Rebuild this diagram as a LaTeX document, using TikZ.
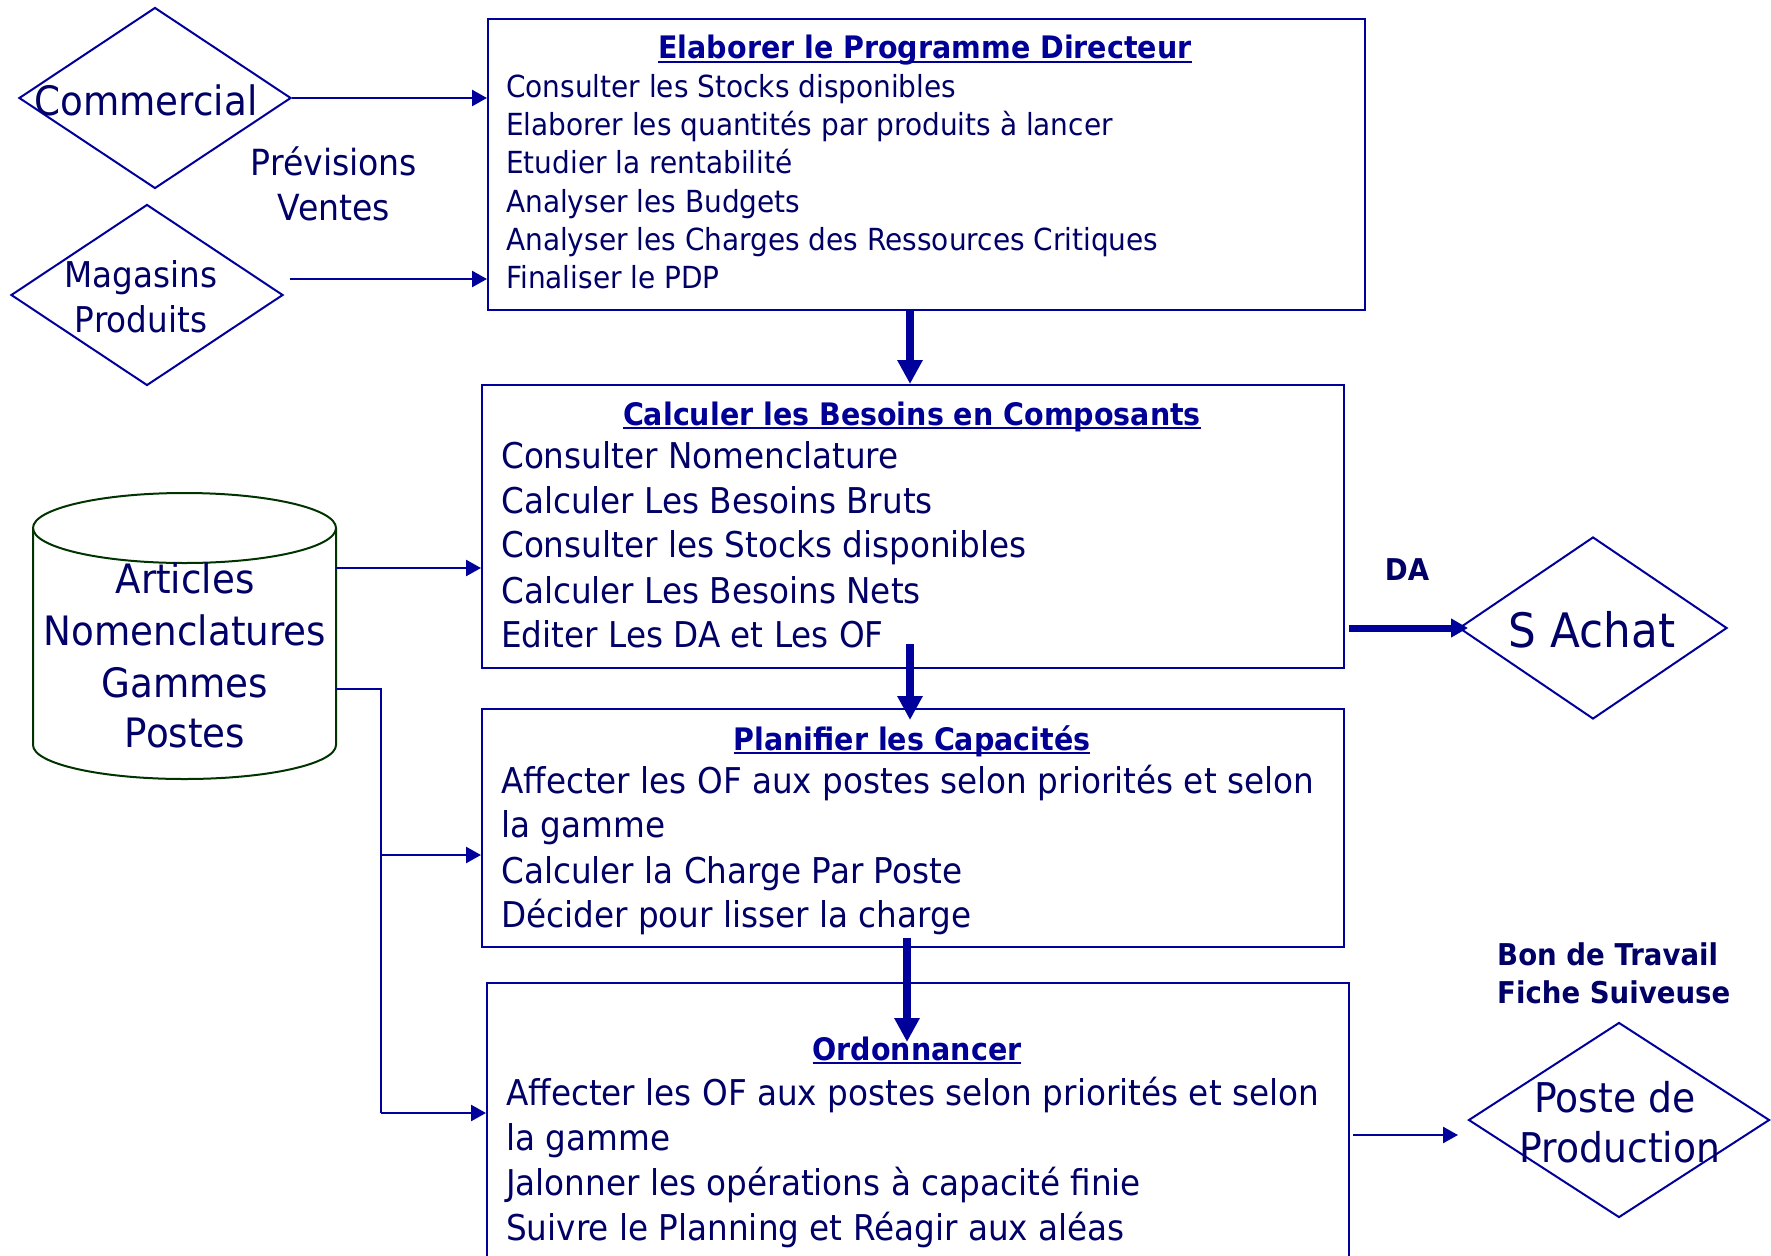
\documentclass[tikz,border=0pt]{standalone}
\usepackage{fontspec}
\setmainfont{DejaVu Sans}[FakeStretch=0.92]
\usetikzlibrary{arrows.meta,shapes.geometric}
\definecolor{txt}{RGB}{0,0,102}
\definecolor{ttlc}{RGB}{0,0,150}
\definecolor{linec}{RGB}{0,0,155}
\definecolor{dbc}{RGB}{0,51,0}
\newcommand\ulin[1]{\leavevmode\setbox0\hbox{#1}\rlap{\rule[-4pt]{\wd0}{2.2pt}}\box0}
\begin{document}
\begin{tikzpicture}[x=1pt,y=-1pt,
  box/.style={draw=linec, line width=2pt, rectangle, anchor=north west, inner sep=0pt},
  dia/.style={draw=linec, line width=2pt, diamond, inner sep=0pt},
  arr/.style={draw=linec, line width=2.5pt, -{Triangle[length=15pt,width=16pt]}},
  tarr/.style={draw=linec, line width=8pt, -{Triangle[length=24pt,width=24pt]}},
  darr/.style={draw=linec, line width=7pt, -{Triangle[length=17pt,width=18pt]}},
  ln/.style={draw=linec, line width=2.5pt},
  t1/.style={anchor=base west, inner sep=0pt, text=txt, font=\fontsize{30.4}{36}\selectfont},
  t2/.style={anchor=base west, inner sep=0pt, text=txt, font=\fontsize{35.5}{42}\selectfont},
  ttl/.style={anchor=base, inner sep=0pt, text=ttlc, font=\bfseries\fontsize{31}{37}\selectfont},
  lab/.style={anchor=base, inner sep=0pt, text=txt},
  blab/.style={anchor=base west, inner sep=0pt, text=txt, font=\bfseries\fontsize{30}{36}\selectfont}]
\useasboundingbox (0,0) rectangle (1771,1255);
\clip (0,0) rectangle (1771,1255);

% boxes
\node[box, minimum width=877pt, minimum height=291pt] (b1) at (487,18) {};
\node[box, minimum width=862pt, minimum height=283pt] (b2) at (481,384) {};
\node[box, minimum width=862pt, minimum height=238pt] (b3) at (481,708) {};
\node[box, minimum width=862pt, minimum height=400pt] (b4) at (486,982) {};

% box 1 text
\node[ttl] (b1t) at (925,59) {\ulin{Elaborer le Programme Directeur}};
\node[t1] (b1l1) at (506,97) {Consulter les Stocks disponibles};
\node[t1] (b1l2) at (506,135) {Elaborer les quantités par produits à lancer};
\node[t1] (b1l3) at (506,173) {Etudier la rentabilité};
\node[t1] (b1l4) at (506,212) {Analyser les Budgets};
\node[t1] (b1l5) at (506,250) {Analyser les Charges des Ressources Critiques};
\node[t1] (b1l6) at (506,288) {Finaliser le PDP};

% box 2 text
\node[ttl] (b2t) at (912,425) {\ulin{Calculer les Besoins en Composants}};
\node[t2] (b2l1) at (501,468) {Consulter Nomenclature};
\node[t2] (b2l2) at (501,513) {Calculer Les Besoins Bruts};
\node[t2] (b2l3) at (501,557) {Consulter les Stocks disponibles};
\node[t2] (b2l4) at (501,603) {Calculer Les Besoins Nets};
\node[t2] (b2l5) at (501,647) {Editer Les DA et Les OF};

% box 3 text
\node[ttl] (b3t) at (912,750) {\ulin{Planifier les Capacités}};
\node[t2] (b3l1) at (501,793) {Affecter les OF aux postes selon priorités et selon};
\node[t2] (b3l2) at (501,837) {la gamme};
\node[t2] (b3l3) at (501,883) {Calculer la Charge Par Poste};
\node[t2] (b3l4) at (501,927) {Décider pour lisser la charge};

% box 4 text
\node[ttl] (b4t) at (917,1060) {\ulin{Ordonnancer}};
\node[t2] (b4l1) at (506,1105) {Affecter les OF aux postes selon priorités et selon};
\node[t2] (b4l2) at (506,1150) {la gamme};
\node[t2] (b4l3) at (506,1195) {Jalonner les opérations à capacité finie};
\node[t2] (b4l4) at (506,1240) {Suivre le Planning et Réagir aux aléas};

% diamonds
\node[dia, minimum width=272pt, minimum height=181pt] (com) at (155,98) {};
\node[lab, font=\fontsize{40.5}{50}\selectfont] (comt) at (146,115) {Commercial};
\node[dia, minimum width=272pt, minimum height=181pt] (mag) at (147,295) {};
\node[lab, font=\fontsize{35.5}{44}\selectfont] (magt1) at (141,287) {Magasins};
\node[lab, font=\fontsize{35.5}{44}\selectfont] (magt2) at (141,332) {Produits};
\node[lab, font=\fontsize{36}{45}\selectfont] (prev1) at (334,175) {Prévisions};
\node[lab, font=\fontsize{36}{45}\selectfont] (prev2) at (334,220) {Ventes};

\node[dia, minimum width=268pt, minimum height=182pt] (sa) at (1593,628) {};
\node[lab, font=\fontsize{47.5}{56}\selectfont] (sat) at (1592,647) {S Achat};
\node[dia, minimum width=301pt, minimum height=195pt] (pp) at (1619,1120) {};
\node[lab, font=\fontsize{41}{50}\selectfont] (ppt1) at (1615,1112) {Poste de};
\node[lab, font=\fontsize{41}{50}\selectfont] (ppt2) at (1620,1162) {Production};

% labels
\node[lab, font=\bfseries\fontsize{30}{36}\selectfont] (da) at (1407,580) {DA};
\node[blab] (bon1) at (1497,965) {Bon de Travail};
\node[blab] (bon2) at (1497,1003) {Fiche Suiveuse};

% cylinder
\draw[draw=dbc, line width=2pt] (184.5,528) ellipse [x radius=151.5pt, y radius=35pt];
\draw[draw=dbc, line width=2pt] (33,528) -- (33,745)
  arc[start angle=180, end angle=360, x radius=151.5pt, y radius=34pt] -- (336,528);
\coordinate (db) at (336,528);
\node[lab, font=\fontsize{40.5}{50}\selectfont] (dbt1) at (185,593) {Articles};
\node[lab, font=\fontsize{40.5}{50}\selectfont] (dbt2) at (185,645) {Nomenclatures};
\node[lab, font=\fontsize{40.5}{50}\selectfont] (dbt3) at (185,697) {Gammes};
\node[lab, font=\fontsize{40.5}{50}\selectfont] (dbt4) at (185,747) {Postes};

% connectors
\draw[arr] (com.east) -- (com.east -| b1.west);
\coordinate (mout) at (290,279);
\draw[arr] (mout) -- (mout -| b1.west);

\coordinate (vx) at (910,0);
\draw[tarr] (b1.south -| vx) -- (b2.north -| vx);
\coordinate (a2s) at (910,644);
\coordinate (a2e) at (910,720);
\draw[tarr] (a2s) -- (a2e);
\coordinate (a3s) at (907,938);
\coordinate (a3e) at (907,1042);
\draw[tarr] (a3s) -- (a3e);

\coordinate (dbo1) at (336,568);
\draw[arr] (dbo1) -- (dbo1 -| b2.west);
\coordinate (dbo2) at (336,689);
\coordinate (bus) at (381,689);
\coordinate (j3) at (381,855);
\coordinate (j4) at (381,1113);
\draw[ln] (dbo2) -- (bus) -- (j4);
\draw[arr] (j3) -- (j3 -| b3.west);
\draw[arr] (j4) -- (j4 -| b4.west);

\coordinate (das) at (1349,628);
\coordinate (dae) at (1468,628);
\draw[darr] (das) -- (dae);
\coordinate (pps) at (1353,1135);
\coordinate (ppe) at (1458,1135);
\draw[arr] (pps) -- (ppe);
\end{tikzpicture}
\end{document}
